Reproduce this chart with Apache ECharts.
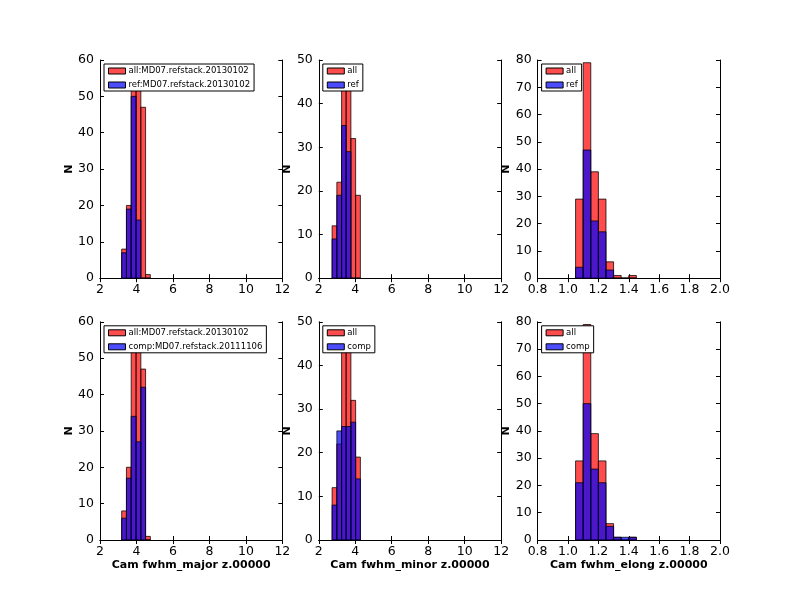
<!DOCTYPE html>
<html>
<head>
<meta charset="utf-8">
<script src="https://cdn.jsdelivr.net/npm/echarts@6/dist/echarts.min.js"></script>
<style>
  html, body { margin: 0; padding: 0; background: #fff; }
  #main { width: 800px; height: 600px; }
</style>
</head>
<body>
<div id="main"></div>
<script>
// bin edges
var majorEdges = [3.19, 3.45, 3.71, 3.98, 4.24, 4.50, 4.76];
var minorEdges = [2.73, 2.99, 3.25, 3.50, 3.76, 4.02, 4.28];
var elongEdges = [1.05, 1.10, 1.15, 1.20, 1.25, 1.30, 1.35, 1.40, 1.45];

// counts per bin
var allMajor  = [8, 20, 54, 57, 47, 1];
var refMajor  = [7, 19, 50, 16, 0, 0];
var compMajor = [6, 17, 34, 27, 42, 0];

var allMinor  = [12, 22, 49, 45, 32, 19];
var refMinor  = [9, 19, 35, 29, 0, 0];
var compMinor = [8, 25, 26, 26, 27, 14];

var allElong  = [29, 79, 39, 29, 6, 1, 0, 1];
var refElong  = [4, 47, 21, 17, 3, 0, 0, 0];
var compElong = [21, 50, 26, 21, 5, 1, 1, 1];

var xNames = ['Cam fwhm_major z.00000', 'Cam fwhm_minor z.00000', 'Cam fwhm_elong z.00000'];

var RED = 'rgba(255,0,0,0.7)';
var BLUE = 'rgba(0,0,255,0.7)';
var FONT = 'DejaVu Sans';

// panels: row, col, axes ranges, series
var panels = [
	{ row: 0, col: 0, xmin: 2, xmax: 12, xint: 2, ymax: 60, edges: majorEdges,
	  a: 'all:MD07.refstack.20130102', av: allMajor, b: 'ref:MD07.refstack.20130102', bv: refMajor },
	{ row: 0, col: 1, xmin: 2, xmax: 12, xint: 2, ymax: 50, edges: minorEdges,
	  a: 'all', av: allMinor, b: 'ref', bv: refMinor },
	{ row: 0, col: 2, xmin: 0.8, xmax: 2.0, xint: 0.2, ymax: 80, edges: elongEdges,
	  a: 'all', av: allElong, b: 'ref', bv: refElong },
	{ row: 1, col: 0, xmin: 2, xmax: 12, xint: 2, ymax: 60, edges: majorEdges,
	  a: 'all:MD07.refstack.20130102', av: allMajor, b: 'comp:MD07.refstack.20111106', bv: compMajor },
	{ row: 1, col: 1, xmin: 2, xmax: 12, xint: 2, ymax: 50, edges: minorEdges,
	  a: 'all', av: allMinor, b: 'comp', bv: compMinor },
	{ row: 1, col: 2, xmin: 0.8, xmax: 2.0, xint: 0.2, ymax: 80, edges: elongEdges,
	  a: 'all', av: allElong, b: 'comp', bv: compElong }
];

var colLeft = [100, 318.8, 537.6];
var rowTop = [60, 321.8];
var W = 182.35, H = 218.2;

function binData(edges, counts) {
	var out = [];
	for (var i = 0; i < counts.length; i++) {
		out.push([edges[i], edges[i + 1], counts[i]]);
	}
	return out;
}

function barRenderer(color) {
	return function (params, api) {
		var p0 = api.coord([api.value(0), 0]);
		var p1 = api.coord([api.value(1), api.value(2)]);
		return {
			type: 'rect',
			shape: { x: p0[0], y: p1[1], width: p1[0] - p0[0], height: p0[1] - p1[1] },
			style: { fill: color, stroke: 'rgba(0,0,0,0.75)', lineWidth: 1 }
		};
	};
}

var grid = [], xAxis = [], yAxis = [], series = [], legend = [];

panels.forEach(function (p, i) {
	grid.push({ left: colLeft[p.col], top: rowTop[p.row], width: W, height: H });

	var dec = p.xint < 1 ? 1 : 0;
	var tick = { show: true, inside: true, length: 4, lineStyle: { color: '#000' } };
	var line = { show: true, lineStyle: { color: '#000', width: 1 } };

	// bottom x axis
	xAxis.push({
		type: 'value', gridIndex: i, min: p.xmin, max: p.xmax, interval: p.xint,
		position: 'bottom', axisLine: line, axisTick: tick, splitLine: { show: false },
		axisLabel: { color: '#000', fontFamily: FONT, fontSize: 12.5, margin: 5,
			formatter: function (v) { return v.toFixed(dec); } },
		name: p.row === 1 ? xNames[p.col] : '', nameLocation: 'middle', nameGap: 20,
		nameTextStyle: { color: '#000', fontFamily: FONT, fontSize: 11, fontWeight: 'bold' }
	});
	// top x axis (ticks only)
	xAxis.push({
		type: 'value', gridIndex: i, min: p.xmin, max: p.xmax, interval: p.xint,
		position: 'top', axisLine: line, axisTick: tick, splitLine: { show: false },
		axisLabel: { show: false }
	});
	// left y axis
	yAxis.push({
		type: 'value', gridIndex: i, min: 0, max: p.ymax, interval: 10,
		position: 'left', axisLine: line, axisTick: tick, splitLine: { show: false },
		axisLabel: { color: '#000', fontFamily: FONT, fontSize: 12.5, margin: 6 },
		name: 'N', nameLocation: 'middle', nameGap: 24, nameRotate: 90,
		nameTextStyle: { color: '#000', fontFamily: FONT, fontSize: 11, fontWeight: 'bold' }
	});
	// right y axis (ticks only)
	yAxis.push({
		type: 'value', gridIndex: i, min: 0, max: p.ymax, interval: 10,
		position: 'right', axisLine: line, axisTick: tick, splitLine: { show: false },
		axisLabel: { show: false }
	});

	series.push({
		type: 'custom', name: p.a, xAxisIndex: 2 * i, yAxisIndex: 2 * i, clip: true,
		itemStyle: { color: RED }, renderItem: barRenderer(RED), data: binData(p.edges, p.av)
	});
	series.push({
		type: 'custom', name: p.b, xAxisIndex: 2 * i, yAxisIndex: 2 * i, clip: true,
		itemStyle: { color: BLUE }, renderItem: barRenderer(BLUE), data: binData(p.edges, p.bv)
	});

	legend.push({
		left: colLeft[p.col] + 4, top: rowTop[p.row] + 4, orient: 'vertical',
		selectedMode: false, icon: 'rect', itemWidth: 17, itemHeight: 6, itemGap: 4,
		padding: [2, 4, 1, 4], backgroundColor: '#fff', borderColor: '#000', borderWidth: 1,
		borderRadius: 0,
		textStyle: { color: '#000', fontFamily: FONT, fontSize: 8.5, lineHeight: 10, padding: [0, 0, 0, -2] },
		data: [
			{ name: p.a, itemStyle: { color: RED, borderColor: '#000', borderWidth: 1 } },
			{ name: p.b, itemStyle: { color: BLUE, borderColor: '#000', borderWidth: 1 } }
		]
	});
});

var chart = echarts.init(document.getElementById('main'), null, { renderer: 'canvas' });
chart.setOption({
	animation: false,
	backgroundColor: '#fff',
	grid: grid,
	xAxis: xAxis,
	yAxis: yAxis,
	legend: legend,
	series: series
});
</script>
</body>
</html>
